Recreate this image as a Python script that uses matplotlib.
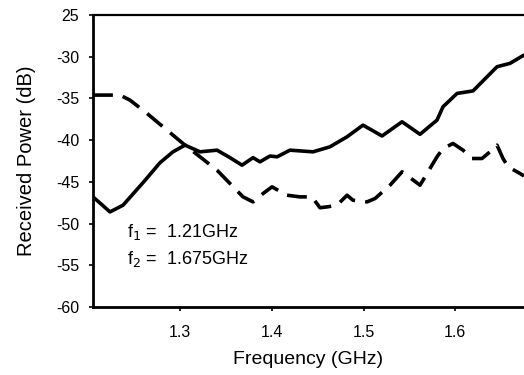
import numpy as np
import matplotlib
matplotlib.use("Agg")
import matplotlib.pyplot as plt

# solid curve (f1 receiver)
freq_solid = [1.205, 1.2235, 1.2377, 1.2595, 1.2781, 1.2922, 1.3053, 1.3217, 1.3402,
              1.3544, 1.3675, 1.3795, 1.3871, 1.3980, 1.4057, 1.4198, 1.4449, 1.4634,
              1.4820, 1.4994, 1.5202, 1.5420, 1.5616, 1.5801, 1.5867, 1.6020, 1.6194,
              1.6456, 1.6597, 1.675]
power_solid = [-46.8, -48.6, -47.8, -45.1, -42.7, -41.4, -40.6, -41.4, -41.2,
               -42.1, -43.0, -42.1, -42.6, -41.9, -42.0, -41.2, -41.4, -40.8,
               -39.6, -38.2, -39.5, -37.8, -39.3, -37.6, -36.0, -34.4, -34.1,
               -31.2, -30.8, -29.8]

# dashed curve
freq_dash = [1.205, 1.2344, 1.2453, 1.2639, 1.2857, 1.3031, 1.3217, 1.3402, 1.3544,
             1.3686, 1.3795, 1.3904, 1.4002, 1.4166, 1.4307, 1.4438, 1.4525, 1.4602,
             1.4711, 1.4820, 1.4885, 1.5038, 1.5125, 1.5289, 1.5420, 1.5507, 1.5616,
             1.5692, 1.5801, 1.5867, 1.5976, 1.6085, 1.6183, 1.6292, 1.6379, 1.6456,
             1.6521, 1.6576, 1.6707, 1.675]
power_dash = [-34.6, -34.6, -35.2, -36.8, -38.8, -40.4, -42.0, -43.6, -45.2,
              -46.8, -47.4, -46.4, -45.6, -46.6, -46.8, -46.8, -48.1, -48.0,
              -47.8, -46.6, -47.2, -47.4, -47.0, -45.4, -43.8, -44.5, -45.4,
              -44.0, -42.0, -41.0, -40.4, -41.2, -42.2, -42.2, -41.4, -40.6,
              -42.2, -43.2, -44.0, -44.3]

yticks = [-60, -55, -50, -45, -40, -35, -30, -25]
ytick_labels = ["-60", "-55", "-50", "-45", "-40", "-35", "-30", "25"]
xticks = [1.3, 1.4, 1.5, 1.6]
xtick_labels = ["1.3", "1.4", "1.5", "1.6"]

plt.rcParams['font.family'] = ['Liberation Sans', 'DejaVu Sans']

fig = plt.figure(figsize=(5.24, 3.75), dpi=100)
ax = fig.add_axes([0.1775, 0.1813, 0.8225, 0.7787])

ax.plot(freq_solid, power_solid, color="black", lw=2.6, solid_capstyle="round")
ax.plot(freq_dash, power_dash, color="black", lw=2.6, dashes=(5.5, 2.8))

ax.set_xlim(1.205, 1.675)
ax.set_ylim(-60, -25)
ax.set_xticks(xticks)
ax.set_xticklabels(xtick_labels)
ax.set_yticks(yticks)
ax.set_yticklabels(ytick_labels)

ax.spines['right'].set_visible(False)
ax.spines['left'].set_linewidth(2.0)
ax.spines['bottom'].set_linewidth(2.0)
ax.spines['top'].set_linewidth(1.6)
ax.tick_params(direction="out", length=3, width=1.2, labelsize=11.5)
ax.tick_params(axis="x", pad=10)
ax.tick_params(axis="y", pad=7)

ax.set_xlabel("Frequency (GHz)", fontsize=14, labelpad=8)
ax.set_ylabel("Received Power (dB)", fontsize=14.5, labelpad=14)

ax.text(1.242, -51.0, "f$_1$ =  1.21GHz", fontsize=13, va="center")
ax.text(1.242, -54.3, "f$_2$ =  1.675GHz", fontsize=13, va="center")

plt.savefig("out.png", dpi=100)
